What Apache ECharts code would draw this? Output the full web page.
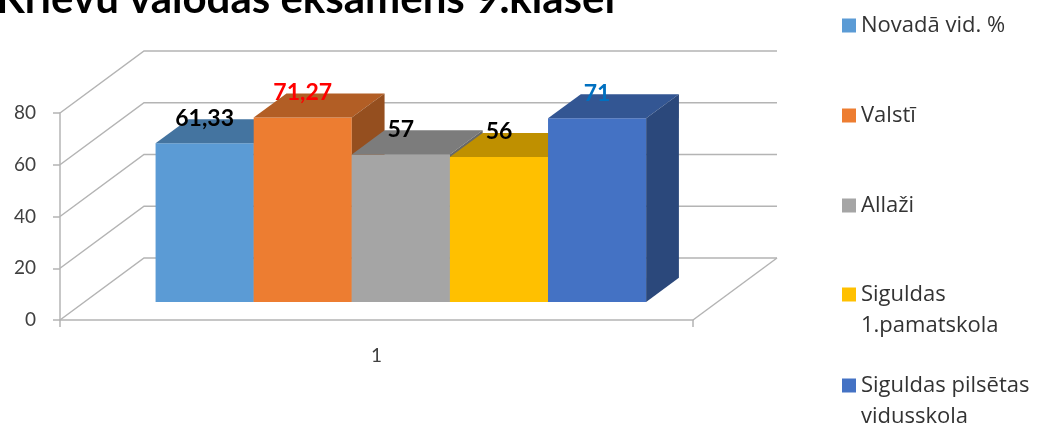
<!DOCTYPE html>
<html>
<head>
<meta charset="utf-8">
<title>Krievu valodas eksāmens 9.klasei</title>
<script src="https://cdn.jsdelivr.net/npm/echarts@6/dist/echarts.min.js"></script>
<style>
  html, body { margin: 0; padding: 0; background: #fff; }
  #chart { width: 1042px; height: 425px; }
</style>
</head>
<body>
<div id="chart"></div>
<script>
// 数据
const categories = ["1"];
const seriesNames = ["Novadā vid. %", "Valstī", "Allaži", "Siguldas 1.pamatskola", "Siguldas pilsētas vidusskola"];
const seriesValues = [61.33, 71.27, 57, 56, 71];
const yTicks = [0, 20, 40, 60, 80];

// 样式
const FONT = "Lato, 'Liberation Sans', sans-serif";
const LEGEND_FONT = "'Open Sans', 'Noto Sans', sans-serif";
const barColors = ["#5B9BD5", "#ED7D31", "#A5A5A5", "#FFC000", "#4472C4"];
const labelColors = ["#000000", "#FF0000", "#000000", "#000000", "#0070C0"];
// 两行图例前加一个空行，使图标与第一行对齐
const legendLabels = [
  "Novadā vid. %",
  "Valstī",
  "Allaži",
  "\u00a0\nSiguldas\n1.pamatskola",
  "\u00a0\nSiguldas pilsētas\nvidusskola",
];
const legendTops = [10, 100, 190, 248, 339];
const wallColor = "#b4b4b4";

// 3D 斜投影：整个深度的偏移量，柱体位于深度的 0.29 ~ 0.68
const DEPTH_X = 84;
const DEPTH_Y = -62;
const BAR_FRONT = 0.29;
const BAR_BACK = 0.68;
const BAR_RATIO = 0.155;

const shade = (hex, k) => {
  const n = parseInt(hex.slice(1), 16);
  const r = Math.round(((n >> 16) & 255) * k);
  const g = Math.round(((n >> 8) & 255) * k);
  const b = Math.round((n & 255) * k);
  return `rgb(${r},${g},${b})`;
};

// 背景墙 + 左侧墙 + 底面
const renderWalls = (params, api) => {
  const cs = params.coordSys;
  const v = api.value(1);
  const y = api.coord([0, v])[1];
  const style = { stroke: wallColor, lineWidth: 1.5, fill: null };
  const children = [
    {
      type: "polyline",
      z2: 0,
      shape: {
        points: [
          [cs.x, y],
          [cs.x + DEPTH_X, y + DEPTH_Y],
          [cs.x + cs.width + DEPTH_X, y + DEPTH_Y],
        ],
      },
      style,
    },
  ];
  if (v === 0) {
    children.push({
      type: "line",
      z2: 0,
      shape: { x1: cs.x + cs.width, y1: y, x2: cs.x + cs.width + DEPTH_X, y2: y + DEPTH_Y },
      style,
    });
  }
  return { type: "group", children };
};

// 3D 柱体
const makeBarRenderer = (i) => (params, api) => {
  const cat = api.value(0);
  const val = api.value(1);
  const base = api.coord([cat, 0]);
  const top = api.coord([cat, val]);
  const band = api.size([1, 0])[0];
  const bw = band * BAR_RATIO;
  const l = base[0] - (bw * seriesValues.length) / 2 + bw * i;
  const r = l + bw;
  const fx = DEPTH_X * BAR_FRONT;
  const fy = DEPTH_Y * BAR_FRONT;
  const bx = DEPTH_X * BAR_BACK;
  const by = DEPTH_Y * BAR_BACK;
  const y0 = base[1];
  const y1 = top[1];
  const color = barColors[i];
  return {
    type: "group",
    children: [
      {
        type: "polygon",
        z2: 10 + i * 3,
        shape: { points: [[l + fx, y1 + fy], [r + fx, y1 + fy], [r + fx, y0 + fy], [l + fx, y0 + fy]] },
        style: { fill: color },
      },
      {
        type: "polygon",
        z2: 11 + i * 3,
        shape: { points: [[l + fx, y1 + fy], [r + fx, y1 + fy], [r + bx, y1 + by], [l + bx, y1 + by]] },
        style: { fill: shade(color, 0.75) },
      },
      {
        type: "polygon",
        z2: 12 + i * 3,
        shape: { points: [[r + fx, y1 + fy], [r + bx, y1 + by], [r + bx, y0 + by], [r + fx, y0 + fy]] },
        style: { fill: shade(color, 0.63) },
      },
      {
        type: "text",
        z2: 100,
        style: {
          x: (l + r) / 2 + fx,
          y: y1 + by - 1,
          text: String(val).replace(".", ","),
          align: "center",
          verticalAlign: "middle",
          fill: labelColors[i],
          font: `bold 23px ${FONT}`,
        },
      },
    ],
  };
};

const chart = echarts.init(document.getElementById("chart"));

const options = {
  animation: false,
  backgroundColor: "#fff",
  title: {
    text: "Krievu valodas eksāmens 9.klasei",
    left: -4,
    top: -22,
    padding: 0,
    textStyle: { fontFamily: FONT, fontSize: 42, fontWeight: "bold", color: "#000" },
  },
  legend: seriesNames.map((name, i) => ({
    data: [name],
    orient: "vertical",
    left: 842,
    top: legendTops[i],
    padding: 0,
    icon: "rect",
    itemWidth: 14,
    itemHeight: 14,
    selectedMode: false,
    formatter: () => legendLabels[i],
    textStyle: {
      fontFamily: LEGEND_FONT,
      fontSize: 22,
      color: "#333",
      lineHeight: 31,
    },
  })),
  grid: {
    left: 60,
    top: 113,
    width: 633,
    height: 207,
  },
  xAxis: {
    type: "category",
    data: categories,
    axisLine: { lineStyle: { color: wallColor, width: 1.5 } },
    axisTick: { show: true, length: 7, lineStyle: { color: wallColor, width: 1.5 } },
    axisLabel: { margin: 26, fontFamily: FONT, fontSize: 19, color: "#404040" },
    splitLine: { show: false },
  },
  yAxis: {
    type: "value",
    min: 0,
    max: 80,
    interval: 20,
    axisLine: { show: true, lineStyle: { color: wallColor, width: 1.5 } },
    axisTick: { show: true, length: 7, lineStyle: { color: wallColor, width: 1.5 } },
    axisLabel: { margin: 24, fontFamily: FONT, fontSize: 19, color: "#404040" },
    splitLine: { show: false },
  },
  series: [
    {
      name: "walls",
      type: "custom",
      silent: true,
      renderItem: renderWalls,
      data: yTicks.map((v) => [0, v]),
    },
    ...seriesNames.map((name, i) => ({
      name,
      type: "custom",
      itemStyle: { color: barColors[i] },
      renderItem: makeBarRenderer(i),
      data: [[0, seriesValues[i]]],
    })),
  ],
};

chart.setOption(options);
</script>
</body>
</html>
